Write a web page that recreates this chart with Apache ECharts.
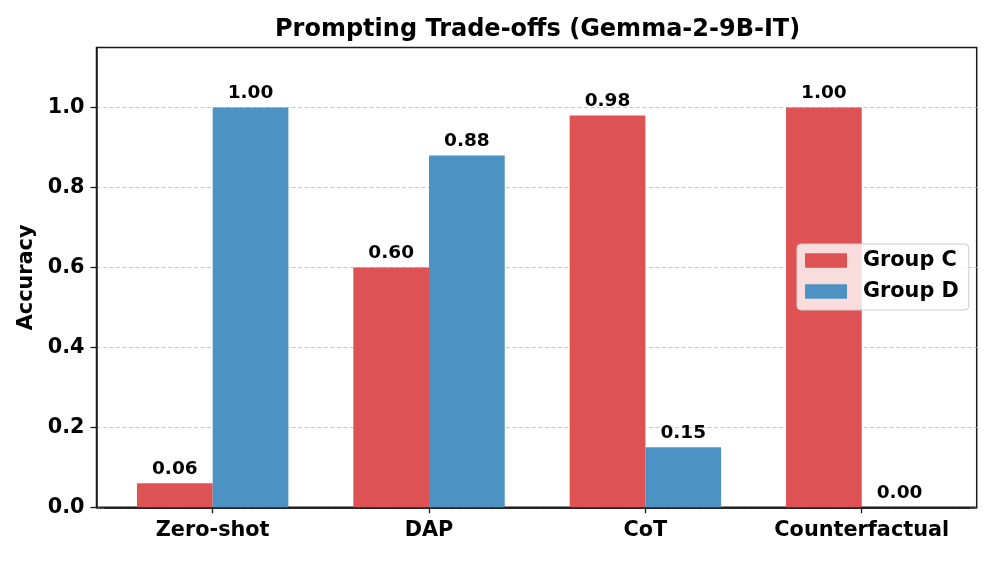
<!DOCTYPE html>
<html>
<head>
<meta charset="utf-8">
<script src="https://cdn.jsdelivr.net/npm/echarts@6/dist/echarts.min.js"></script>
<style>
html,body{margin:0;padding:0;background:#fff;}
#chart{width:996px;height:561px;}
</style>
</head>
<body>
<div id="chart"></div>
<script>
const categories = ['Zero-shot', 'DAP', 'CoT', 'Counterfactual'];
const groupC = [0.06, 0.60, 0.98, 1.00];
const groupD = [1.00, 0.88, 0.15, 0.00];
const yTicks = [0, 0.2, 0.4, 0.6, 0.8, 1.0];
const seriesNames = ['Group C', 'Group D'];
const titleText = 'Prompting Trade-offs (Gemma-2-9B-IT)';
const yName = 'Accuracy';

const FONT = 'DejaVu Sans';
const chart = echarts.init(document.getElementById('chart'), null, {renderer: 'canvas'});

const labelStyle = {
  show: true,
  position: 'top',
  distance: 5,
  fontFamily: FONT,
  fontWeight: 'bold',
  fontSize: 18.5,
  color: '#000',
  formatter: p => p.value.toFixed(2)
};

const spine = {color: '#1a1a1a', width: 1.5};

chart.setOption({
  animation: false,
  backgroundColor: '#fff',
  title: {
    text: titleText,
    left: 275,
    top: 18,
    padding: 0,
    textStyle: {fontFamily: FONT, fontWeight: 'bold', fontSize: 24, color: '#000'}
  },
  legend: {
    data: seriesNames,
    orient: 'vertical',
    left: 797,
    top: 244,
    itemWidth: 42,
    itemHeight: 14.5,
    itemGap: 10,
    padding: [6, 10, 8, 8],
    backgroundColor: 'rgba(255,255,255,0.8)',
    borderColor: '#cccccc',
    borderWidth: 1,
    borderRadius: 4,
    icon: 'rect',
    textStyle: {fontFamily: FONT, fontWeight: 'bold', fontSize: 20.8, color: '#000', padding: [0, 0, 0, 11], lineHeight: 21}
  },
  grid: [
    {left: 96.5, right: 19.3, top: 47.5, bottom: 53.7, show: true, borderColor: '#1a1a1a', borderWidth: 1.5, backgroundColor: 'transparent', containLabel: false},
    {left: 104.5, right: 26.1, top: 47.5, bottom: 53.7, containLabel: false}
  ],
  xAxis: [
    {
      gridIndex: 0, type: 'value', min: 0, max: 1, show: true,
      axisLine: {show: true, lineStyle: spine},
      axisTick: {show: false}, axisLabel: {show: false}, splitLine: {show: false}
    },
    {
      gridIndex: 1, type: 'category', data: categories,
      axisLine: {show: true, lineStyle: spine},
      axisTick: {show: true, alignWithLabel: true, interval: 0, length: 6, lineStyle: {color: '#1a1a1a', width: 1.3}},
      axisLabel: {interval: 0, margin: 13, fontFamily: FONT, fontWeight: 'bold', fontSize: 20.8, color: '#000'},
      splitLine: {show: false}
    }
  ],
  yAxis: [
    {
      gridIndex: 0, type: 'value', min: 0, max: 1.15,
      name: yName, nameLocation: 'middle', nameGap: 53, nameRotate: 90,
      nameTextStyle: {fontFamily: FONT, fontWeight: 'bold', fontSize: 20.8, color: '#000'},
      axisLine: {show: true, lineStyle: spine},
      axisTick: {show: true, length: 6, customValues: yTicks, lineStyle: {color: '#1a1a1a', width: 1.3}},
      axisLabel: {
        margin: 12, customValues: yTicks,
        fontFamily: FONT, fontWeight: 'bold', fontSize: 20.8, color: '#000',
        formatter: v => v.toFixed(1)
      },
      splitLine: {show: true, lineStyle: {color: '#c8c8c8', width: 1, type: [4, 2.5]}}
    },
    {gridIndex: 1, type: 'value', min: 0, max: 1.15, show: false, splitLine: {show: false}}
  ],
  series: [
    {
      name: seriesNames[0], type: 'bar', xAxisIndex: 1, yAxisIndex: 1,
      data: groupC, barWidth: 75.7, barGap: '0%',
      itemStyle: {color: '#de5253'},
      label: labelStyle, z: 3
    },
    {
      name: seriesNames[1], type: 'bar', xAxisIndex: 1, yAxisIndex: 1,
      data: groupD, barWidth: 75.7, barGap: '0%',
      itemStyle: {color: '#4c92c3'},
      label: labelStyle, z: 3
    }
  ]
});
</script>
</body>
</html>
